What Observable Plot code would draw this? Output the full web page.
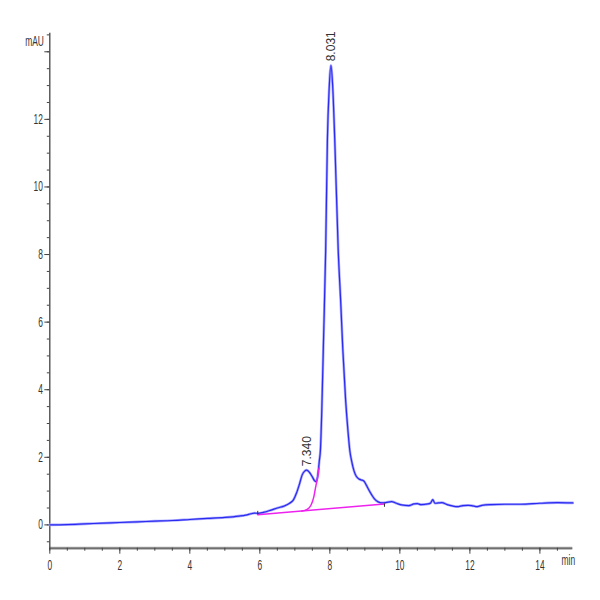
<!DOCTYPE html>
<html>
<head>
<meta charset="utf-8">
<script src="https://cdn.jsdelivr.net/npm/d3@7"></script>
<script src="https://cdn.jsdelivr.net/npm/@observablehq/plot@0.6"></script>
<style>
  html, body { margin: 0; padding: 0; background: white; }
</style>
</head>
<body>
<div id="chart"></div>
<script>
// Chromatogram trace (min, mAU)
const traceTime = [0, 0.5, 1, 1.5, 2, 2.5, 3, 3.5, 4, 4.5, 5, 5.4, 5.6, 5.75, 5.85, 5.95, 6.1, 6.3, 6.5, 6.7, 6.85, 6.96, 7.05, 7.13, 7.21, 7.28, 7.34, 7.42, 7.5, 7.56, 7.61, 7.66, 7.7, 7.73, 7.77, 7.82, 7.88, 7.93, 7.98, 8.031, 8.08, 8.14, 8.24, 8.31, 8.37, 8.45, 8.52, 8.57, 8.63, 8.69, 8.76, 8.83, 8.9, 8.97, 9.04, 9.11, 9.2, 9.28, 9.38, 9.49, 9.6, 9.76, 9.9, 10.05, 10.26, 10.4, 10.5, 10.6, 10.8, 10.88, 10.94, 11.0, 11.1, 11.2, 11.35, 11.5, 11.64, 11.8, 11.95, 12.05, 12.21, 12.35, 12.6, 13.0, 13.45, 14.0, 14.5, 14.94];
const traceSignal = [0.00, 0.01, 0.03, 0.05, 0.07, 0.09, 0.11, 0.13, 0.16, 0.19, 0.22, 0.26, 0.29, 0.33, 0.35, 0.34, 0.37, 0.43, 0.50, 0.56, 0.64, 0.74, 0.95, 1.2, 1.48, 1.59, 1.62, 1.55, 1.42, 1.31, 1.28, 1.5, 1.9, 2.2, 3.4, 5.5, 8.1, 11.4, 12.9, 13.6, 13.0, 11.4, 8.1, 6.6, 5.2, 3.7, 2.75, 2.2, 1.85, 1.6, 1.43, 1.36, 1.33, 1.30, 1.18, 1.04, 0.88, 0.76, 0.68, 0.65, 0.66, 0.69, 0.64, 0.59, 0.57, 0.62, 0.63, 0.60, 0.62, 0.65, 0.75, 0.64, 0.65, 0.66, 0.60, 0.56, 0.54, 0.57, 0.58, 0.57, 0.54, 0.58, 0.60, 0.61, 0.61, 0.64, 0.66, 0.65];

// Integration baseline (magenta)
const baseTime = [5.94, 9.56];
const baseSignal = [0.30, 0.62];

// Skim curve under the small peak (magenta)
const skimTime = [7.2, 7.35, 7.46, 7.54, 7.6, 7.65, 7.69];
const skimSignal = [0.41, 0.46, 0.58, 0.82, 1.15, 1.4, 1.68];

// Peak labels
const peakTime = [7.340, 8.031];
const peakHeight = [1.62, 13.6];
const peakLabel = ["7.340", "8.031"];

// Axis ticks
const xMajor = [0, 2, 4, 6, 8, 10, 12, 14];
const xMinor = d3.range(0, 14.95, 0.5);
const yMajor = [0, 2, 4, 6, 8, 10, 12, 14];
const yLabels = [0, 2, 4, 6, 8, 10, 12];
const yMinor = d3.range(-0.5, 14.6, 0.5);

const trace = traceTime.map((t, i) => ({t, v: traceSignal[i]}));
const base = baseTime.map((t, i) => ({t, v: baseSignal[i]}));
const skim = skimTime.map((t, i) => ({t, v: skimSignal[i]}));
const peaks = peakTime.map((t, i) => ({t, v: peakHeight[i], label: peakLabel[i]}));
const baseEnds = [{t: baseTime[0], y1: baseSignal[0], y2: baseSignal[0] + 0.1},
                  {t: baseTime[1], y1: baseSignal[1], y2: baseSignal[1] - 0.1}];

const axisColor = "#444";
const font = "'Liberation Sans', Arial, sans-serif";

const chart = Plot.plot({
  width: 600,
  height: 600,
  marginLeft: 49.3,
  marginRight: 27.7,
  marginTop: 32.7,
  marginBottom: 52.3,
  style: {fontFamily: font, fontSize: "14px", color: "#333", background: "white"},
  x: {domain: [0, 14.94], axis: null, label: null},
  y: {domain: [-0.69, 14.55], axis: null, label: null},
  marks: [
    // axis lines
    Plot.ruleY([-0.69], {stroke: "#aaa", strokeWidth: 3}),
    Plot.ruleY([-0.69], {stroke: "#555", strokeWidth: 1}),
    Plot.ruleX([0], {stroke: axisColor, strokeWidth: 1.3}),
    // y ticks
    Plot.axisY({ticks: yMinor, tickSize: 2.5, text: null, label: null, stroke: axisColor}),
    Plot.axisY({ticks: yMajor, tickSize: 5, text: null, label: null, stroke: axisColor}),
    Plot.axisY({ticks: yLabels, tickSize: 0, tickPadding: 7, label: null, fill: "#333"}),
    // x ticks
    Plot.axisX({ticks: xMinor, tickSize: 3, text: null, label: null, stroke: axisColor}),
    Plot.axisX({ticks: xMajor, tickSize: 6, text: null, label: null, stroke: axisColor}),
    Plot.axisX({ticks: xMajor, tickSize: 0, tickPadding: 12, label: null, fill: "#333"}),
    // unit labels
    Plot.text(["mAU"], {x: 0, y: 14.3, textAnchor: "end", dx: -6, fill: "#333"}),
    Plot.text(["min"], {x: 14.62, frameAnchor: "bottom", dy: 17, textAnchor: "start", fill: "#333"}),
    // trace
    Plot.line(trace, {x: "t", y: "v", stroke: "#a8a8ff", strokeWidth: 2.6, curve: "monotone-x"}),
    Plot.line(trace, {x: "t", y: "v", stroke: "#2a2af0", strokeWidth: 1.2, curve: "monotone-x"}),
    // baseline & skim
    Plot.line(base, {x: "t", y: "v", stroke: "#ee22ee", strokeWidth: 1.5}),
    Plot.line(skim, {x: "t", y: "v", stroke: "#ee22ee", strokeWidth: 1.5, curve: "monotone-x"}),
    Plot.ruleX(baseEnds, {x: "t", y1: "y1", y2: "y2", stroke: "#333", strokeWidth: 1}),
    // peak labels
    Plot.text(peaks, {x: "t", y: "v", text: "label", rotate: -90, textAnchor: "start", dy: -4, fill: "#333"})
  ]
});

// Condense horizontal texts to mimic the narrow type of the original
chart.querySelectorAll("text").forEach(t => {
  const tr = t.getAttribute("transform") || "";
  if (tr.includes("rotate")) {
    t.setAttribute("font-size", 12);
    t.style.fontSize = "12px";
    return;
  }
  t.setAttribute("font-size", 14);
  t.style.fontSize = "14px";
  if (tr) t.setAttribute("transform", tr + " scale(0.6,1)");
  else {
    const x = +t.getAttribute("x") || 0, y = +t.getAttribute("y") || 0;
    t.removeAttribute("x"); t.removeAttribute("y");
    t.setAttribute("transform", `translate(${x},${y}) scale(0.6,1)`);
  }
});

document.getElementById("chart").appendChild(chart);
</script>
</body>
</html>
